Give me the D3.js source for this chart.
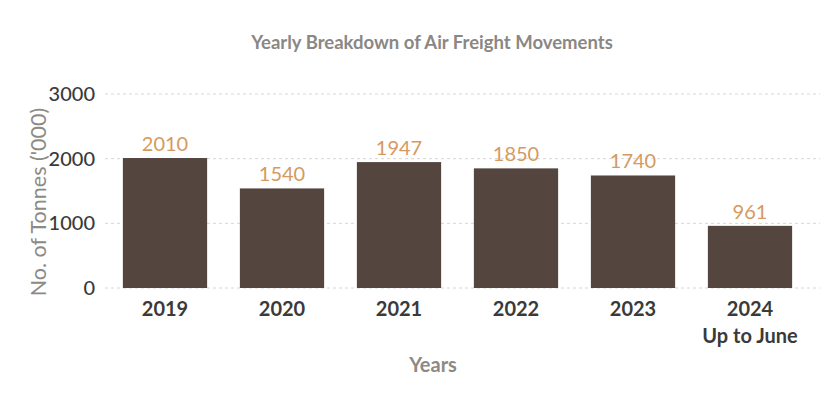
<!DOCTYPE html>
<html>
<head>
<meta charset="utf-8">
<script src="https://cdn.jsdelivr.net/npm/d3@7/dist/d3.min.js"></script>
<style>
  body { margin: 0; background: #fff; }
  svg text { font-family: Lato, "Open Sans", sans-serif; }
</style>
</head>
<body>
<svg id="chart"></svg>
<script>
// data
const years = ["2019", "2020", "2021", "2022", "2023", "2024"];
const yearNotes = ["", "", "", "", "", "Up to June"];
const tonnes = [2010, 1540, 1947, 1850, 1740, 961];
const yTicks = [0, 1000, 2000, 3000];

const width = 838, height = 394;
const svg = d3.select("#chart").attr("width", width).attr("height", height);

const x = d3.scaleBand().domain(years).range([106.5, 808.5]).paddingInner(0.28).paddingOuter(0.14);
const y = d3.scaleLinear().domain([0, 3000]).range([288, 94]);

// title
svg.append("text")
    .attr("x", 432).attr("y", 49)
    .attr("text-anchor", "middle")
    .attr("font-size", 18.5).attr("font-weight", 700)
    .attr("fill", "#8a8784")
    .text("Yearly Breakdown of Air Freight Movements");

// grid lines
svg.append("g")
    .selectAll("line")
    .data(yTicks)
    .enter()
    .append("line")
    .attr("x1", 105).attr("x2", 820)
    .attr("y1", d => y(d)).attr("y2", d => y(d))
    .attr("stroke", "#d6d6d6")
    .attr("stroke-dasharray", "3,3");

// y tick labels
svg.append("g")
    .selectAll("text")
    .data(yTicks)
    .enter()
    .append("text")
    .attr("x", 95).attr("y", d => y(d))
    .attr("dy", "0.35em")
    .attr("text-anchor", "end")
    .attr("font-size", 20).attr("font-weight", 500)
    .attr("fill", "#3a3a3a")
    .text(d => d);

// y axis title
svg.append("text")
    .attr("transform", "translate(46,202) rotate(-90)")
    .attr("text-anchor", "middle")
    .attr("font-size", 21.5)
    .attr("fill", "#8d8a84")
    .text("No. of Tonnes ('000)");

// bars
svg.append("g")
    .selectAll("rect")
    .data(tonnes)
    .enter()
    .append("rect")
    .attr("x", (d, i) => x(years[i]))
    .attr("y", d => y(d))
    .attr("width", x.bandwidth())
    .attr("height", d => y(0) - y(d))
    .attr("fill", "#54463f");

// value labels
svg.append("g")
    .selectAll("text")
    .data(tonnes)
    .enter()
    .append("text")
    .attr("x", (d, i) => x(years[i]) + x.bandwidth() / 2)
    .attr("y", d => y(d) - 7)
    .attr("text-anchor", "middle")
    .attr("font-size", 20)
    .attr("fill", "#d59a5f")
    .text(d => d);

// x labels
const xl = svg.append("g")
    .selectAll("text")
    .data(years)
    .enter()
    .append("text")
    .attr("x", d => x(d) + x.bandwidth() / 2)
    .attr("y", 316)
    .attr("text-anchor", "middle")
    .attr("font-size", 20).attr("font-weight", 700)
    .attr("fill", "#3a3a3a");
xl.append("tspan").text(d => d);
xl.append("tspan")
    .attr("x", d => x(d) + x.bandwidth() / 2)
    .attr("dy", 27)
    .text((d, i) => yearNotes[i]);

// x axis title
svg.append("text")
    .attr("x", 433).attr("y", 372)
    .attr("text-anchor", "middle")
    .attr("font-size", 20).attr("font-weight", 700)
    .attr("fill", "#8d8a84")
    .text("Years");
</script>
</body>
</html>
